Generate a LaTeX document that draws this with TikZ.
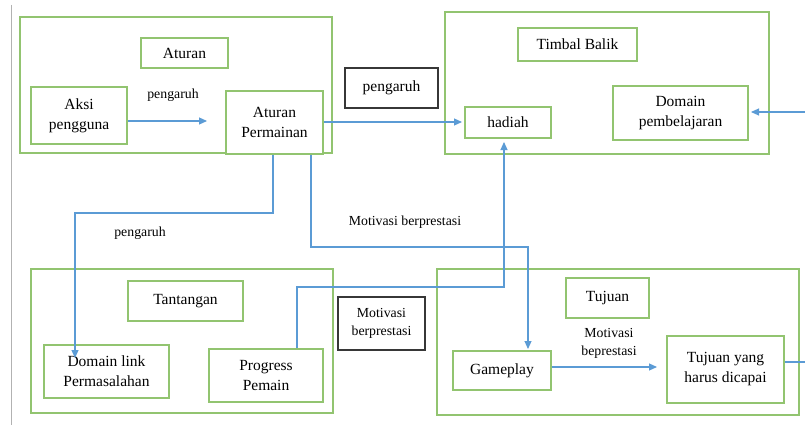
\documentclass[tikz,border=0pt]{standalone}
\usepackage{fontspec}
\setmainfont{Liberation Serif}
\usetikzlibrary{arrows.meta}
\definecolor{gline}{RGB}{146,196,112}
\definecolor{bline}{RGB}{91,155,213}
\definecolor{kline}{RGB}{55,55,55}
\tikzset{
  gbox/.style={draw=gline, line width=1.4pt, inner sep=0pt, align=center, font=\fontsize{15.5}{20}\selectfont},
  kbox/.style={draw=kline, line width=1.6pt, inner sep=0pt, align=center},
  conn/.style={draw=bline, line width=1.1pt},
  arr/.style={conn, -{Triangle[length=8pt,width=7pt]}},
  lbl/.style={inner sep=0pt, align=center, font=\fontsize{13.8}{18}\selectfont},
}
\begin{document}
\begin{tikzpicture}[x=1pt,y=-1pt]
\useasboundingbox (0,0) rectangle (805,425);
\fill[white] (0,0) rectangle (805,425);
\draw[gray!60, line width=0.8pt] (11,5) coordinate (gtop) -- (11,425) coordinate (gbot);
% outer boxes
\node[gbox, minimum width=312pt, minimum height=136pt] (outerA) at (176,85) {};
\node[gbox, minimum width=324pt, minimum height=142pt] (outerT) at (607,83) {};
\node[gbox, minimum width=302pt, minimum height=144pt] (outerC) at (182,341) {};
\node[gbox, minimum width=362pt, minimum height=146pt] (outerG) at (618,342) {};
% inner boxes
\node[gbox, minimum width=87pt, minimum height=30pt] (aturan) at (184.5,53) {Aturan};
\node[gbox, minimum width=96pt, minimum height=57pt] (aksi) at (79,115.5) {Aksi\\pengguna};
\node[gbox, minimum width=97pt, minimum height=63pt, fill=white] (atperm) at (274.5,122.5) {Aturan\\Permainan};
\node[kbox, minimum width=93pt, minimum height=40pt, font=\fontsize{15.5}{20}\selectfont] (pengbox) at (391.5,88) {pengaruh};
\node[gbox, minimum width=119pt, minimum height=33pt] (timbal) at (577.5,44.5) {Timbal Balik};
\node[gbox, minimum width=86pt, minimum height=31pt] (hadiah) at (508,122.5) {hadiah};
\node[gbox, minimum width=135pt, minimum height=54pt] (dompemb) at (680.5,113) {Domain\\pembelajaran};
\node[gbox, minimum width=115pt, minimum height=40pt] (tantangan) at (185.5,301) {Tantangan};
\node[gbox, minimum width=125pt, minimum height=53pt] (domlink) at (106.5,371.5) {Domain link\\Permasalahan};
\node[gbox, minimum width=114pt, minimum height=53pt] (progress) at (266,375.5) {Progress\\Pemain};
\node[kbox, minimum width=87pt, minimum height=53pt, font=\fontsize{13.8}{18}\selectfont] (motivbox) at (381.5,323.5) {Motivasi\\berprestasi};
\node[gbox, minimum width=83pt, minimum height=40pt] (tujuan) at (607.5,298) {Tujuan};
\node[gbox, minimum width=98pt, minimum height=39pt] (gameplay) at (502,370.5) {Gameplay};
\node[gbox, minimum width=117pt, minimum height=67pt] (tujuanyang) at (725.5,369.5) {Tujuan yang\\harus dicapai};
% labels
\node[lbl] (l1) at (173,95) {pengaruh};
\node[lbl] (l2) at (140,233) {pengaruh};
\node[lbl] (l3) at (405,222) {Motivasi berprestasi};
\node[lbl] (l4) at (609,343) {Motivasi\\beprestasi};
% connector end points
\coordinate (tA) at (207,121);
\coordinate (tH) at (462,122);
\coordinate (tD) at (75,358);
\coordinate (tG) at (528,349);
\coordinate (tHb) at (504,142);
\coordinate (rIn) at (805,112);
\coordinate (tDP) at (751,112);
\coordinate (tT) at (657,367);
\coordinate (rOut) at (805,362);
% connectors
\draw[arr] (aksi.east |- tA) -- (tA);
\draw[arr] (atperm.east |- tH) -- (tH);
\draw[arr] (atperm.south -| 273,0) -- (273,213) -- (75,213) -- (tD);
\draw[arr] (atperm.south -| 311,0) -- (311,247) -- (528,247) -- (tG);
\draw[arr] (progress.north -| 297,0) -- (297,287) -- (504,287) -- (tHb);
\draw[arr] (rIn) -- (tDP);
\draw[arr] (gameplay.east |- tT) -- (tT);
\draw[conn] (tujuanyang.east |- rOut) -- (rOut);
\end{tikzpicture}
\end{document}
